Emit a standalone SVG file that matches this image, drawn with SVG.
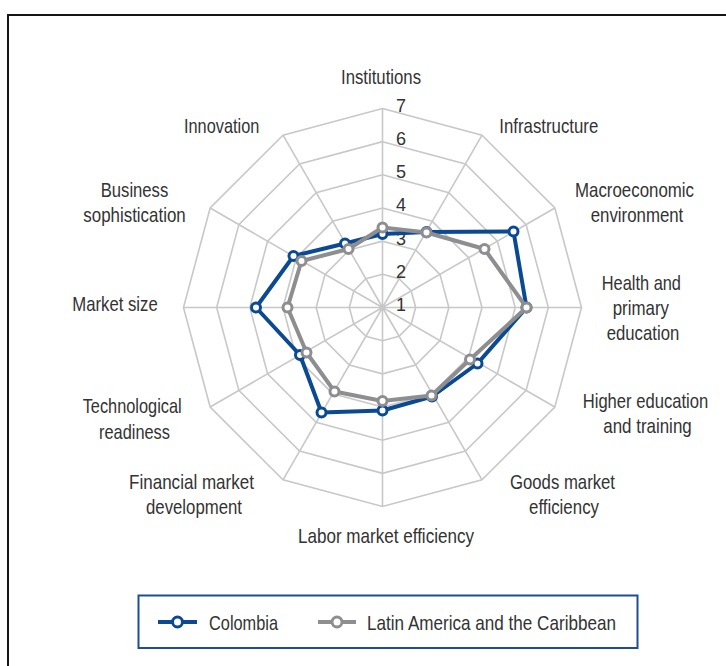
<svg xmlns="http://www.w3.org/2000/svg" width="726" height="666" viewBox="0 0 726 666">
<style>
.lbl{font-family:"Liberation Sans",Arial,sans-serif;font-size:21px;fill:#333;lengthAdjust:spacingAndGlyphs}
.tick{font-family:"Liberation Sans",Arial,sans-serif;font-size:18px;fill:#333}
.ring{fill:none;stroke:#c8c8c8;stroke-width:1.6}
.spoke{stroke:#c8c8c8;stroke-width:1.6}
.col{fill:none;stroke:#0b4a93;stroke-width:4;stroke-linejoin:round}
.lac{fill:none;stroke:#8e8e90;stroke-width:4;stroke-linejoin:round}
.mcol{fill:#fff;stroke:#0b4a93;stroke-width:3}
.mlac{fill:#fff;stroke:#8e8e90;stroke-width:3}
</style>
<rect width="726" height="666" fill="#fff"/>
<path d="M8,666 V15 H726" fill="none" stroke="#151515" stroke-width="2"/>
<g id="grid">
<polygon class="ring" points="382.5,274.33 399.08,278.78 411.22,290.92 415.67,307.5 411.22,324.08 399.08,336.22 382.5,340.67 365.92,336.22 353.78,324.08 349.33,307.5 353.78,290.92 365.92,278.78"/>
<polygon class="ring" points="382.5,241.17 415.67,250.05 439.95,274.33 448.83,307.5 439.95,340.67 415.67,364.95 382.5,373.83 349.33,364.95 325.05,340.67 316.17,307.5 325.05,274.33 349.33,250.05"/>
<polygon class="ring" points="382.5,208 432.25,221.33 468.67,257.75 482,307.5 468.67,357.25 432.25,393.67 382.5,407 332.75,393.67 296.33,357.25 283,307.5 296.33,257.75 332.75,221.33"/>
<polygon class="ring" points="382.5,174.83 448.83,192.61 497.39,241.17 515.17,307.5 497.39,373.83 448.83,422.39 382.5,440.17 316.17,422.39 267.61,373.83 249.83,307.5 267.61,241.17 316.17,192.61"/>
<polygon class="ring" points="382.5,141.67 465.42,163.89 526.11,224.58 548.33,307.5 526.11,390.42 465.42,451.11 382.5,473.33 299.58,451.11 238.89,390.42 216.67,307.5 238.89,224.58 299.58,163.89"/>
<polygon class="ring" points="382.5,108.5 482,135.16 554.84,208 581.5,307.5 554.84,407 482,479.84 382.5,506.5 283,479.84 210.16,407 183.5,307.5 210.16,208 283,135.16"/>
<path class="spoke" d="M382.5,307.5 L382.5,108.5 M382.5,307.5 L482,135.16 M382.5,307.5 L554.84,208 M382.5,307.5 L581.5,307.5 M382.5,307.5 L554.84,407 M382.5,307.5 L482,479.84 M382.5,307.5 L382.5,506.5 M382.5,307.5 L283,479.84 M382.5,307.5 L210.16,407 M382.5,307.5 L183.5,307.5 M382.5,307.5 L210.16,208 M382.5,307.5 L283,135.16"/>
</g>
<g id="ticks">
<text class="tick" x="396" y="311" textLength="8">1</text>
<text class="tick" x="396" y="277.8" textLength="8">2</text>
<text class="tick" x="396" y="244.6" textLength="8">3</text>
<text class="tick" x="396" y="211.4" textLength="8">4</text>
<text class="tick" x="396" y="178.2" textLength="8">5</text>
<text class="tick" x="396" y="145.1" textLength="8">6</text>
<text class="tick" x="396" y="111.9" textLength="8">7</text>
</g>
<g id="series">
<g id="colombia">
<polygon class="col" points="382.5,234 426.5,232 513.5,231.5 526.5,307.5 477.5,363.5 432,396.5 382.5,410.5 321.5,412.5 300,355 256,307.5 293.5,256 345,243.5"/>
<g>
<circle class="mcol" cx="382.5" cy="234" r="4.5"/><circle class="mcol" cx="426.5" cy="232" r="4.5"/><circle class="mcol" cx="513.5" cy="231.5" r="4.5"/><circle class="mcol" cx="526.5" cy="307.5" r="4.5"/><circle class="mcol" cx="477.5" cy="363.5" r="4.5"/><circle class="mcol" cx="432" cy="396.5" r="4.5"/><circle class="mcol" cx="382.5" cy="410.5" r="4.5"/><circle class="mcol" cx="321.5" cy="412.5" r="4.5"/><circle class="mcol" cx="300" cy="355" r="4.5"/><circle class="mcol" cx="256" cy="307.5" r="4.5"/><circle class="mcol" cx="293.5" cy="256" r="4.5"/><circle class="mcol" cx="345" cy="243.5" r="4.5"/>
</g>
</g>
<g id="lac">
<polygon class="lac" points="382.5,227.5 426.5,232.5 484.5,249 526.5,307.5 470,359.5 431.5,395.5 382.5,401 334.5,391.5 306.5,352.5 287.5,307.5 301.5,261 348.5,249"/>
<g>
<circle class="mlac" cx="382.5" cy="227.5" r="4.5"/><circle class="mlac" cx="426.5" cy="232.5" r="4.5"/><circle class="mlac" cx="484.5" cy="249" r="4.5"/><circle class="mlac" cx="526.5" cy="307.5" r="4.5"/><circle class="mlac" cx="470" cy="359.5" r="4.5"/><circle class="mlac" cx="431.5" cy="395.5" r="4.5"/><circle class="mlac" cx="382.5" cy="401" r="4.5"/><circle class="mlac" cx="334.5" cy="391.5" r="4.5"/><circle class="mlac" cx="306.5" cy="352.5" r="4.5"/><circle class="mlac" cx="287.5" cy="307.5" r="4.5"/><circle class="mlac" cx="301.5" cy="261" r="4.5"/><circle class="mlac" cx="348.5" cy="249" r="4.5"/>
</g>
</g>
</g>
<g id="axis-institutions"><text class="lbl" x="341" y="84" textLength="80" lengthAdjust="spacingAndGlyphs">Institutions</text></g>
<g id="axis-infrastructure"><text class="lbl" x="499.3" y="133.3" textLength="99" lengthAdjust="spacingAndGlyphs">Infrastructure</text></g>
<g id="axis-macro"><text class="lbl" x="575" y="196.7" textLength="119" lengthAdjust="spacingAndGlyphs">Macroeconomic</text><text class="lbl" x="590.7" y="221.7" textLength="92.6" lengthAdjust="spacingAndGlyphs">environment</text></g>
<g id="axis-health"><text class="lbl" x="601.7" y="290" textLength="79.3" lengthAdjust="spacingAndGlyphs">Health and</text><text class="lbl" x="612.7" y="315" textLength="56.3" lengthAdjust="spacingAndGlyphs">primary</text><text class="lbl" x="606.7" y="339.5" textLength="72.6" lengthAdjust="spacingAndGlyphs">education</text></g>
<g id="axis-higher"><text class="lbl" x="582.7" y="408.3" textLength="125.6" lengthAdjust="spacingAndGlyphs">Higher education</text><text class="lbl" x="603.3" y="432.7" textLength="88.4" lengthAdjust="spacingAndGlyphs">and training</text></g>
<g id="axis-goods"><text class="lbl" x="510" y="489" textLength="105" lengthAdjust="spacingAndGlyphs">Goods market</text><text class="lbl" x="529" y="514" textLength="70" lengthAdjust="spacingAndGlyphs">efficiency</text></g>
<g id="axis-labor"><text class="lbl" x="298" y="543" textLength="176" lengthAdjust="spacingAndGlyphs">Labor market efficiency</text></g>
<g id="axis-financial"><text class="lbl" x="129" y="489" textLength="125" lengthAdjust="spacingAndGlyphs">Financial market</text><text class="lbl" x="146" y="514" textLength="96" lengthAdjust="spacingAndGlyphs">development</text></g>
<g id="axis-tech"><text class="lbl" x="82.7" y="413.3" textLength="99" lengthAdjust="spacingAndGlyphs">Technological</text><text class="lbl" x="99" y="439.3" textLength="71" lengthAdjust="spacingAndGlyphs">readiness</text></g>
<g id="axis-market"><text class="lbl" x="72.3" y="310.7" textLength="85.4" lengthAdjust="spacingAndGlyphs">Market size</text></g>
<g id="axis-business"><text class="lbl" x="100.7" y="196.7" textLength="67.6" lengthAdjust="spacingAndGlyphs">Business</text><text class="lbl" x="83.3" y="221.7" textLength="102.4" lengthAdjust="spacingAndGlyphs">sophistication</text></g>
<g id="axis-innovation"><text class="lbl" x="184" y="133.3" textLength="75.3" lengthAdjust="spacingAndGlyphs">Innovation</text></g>
<g id="legend">
<rect x="138.5" y="595.5" width="499" height="52.5" fill="#fff" stroke="#1f4e8f" stroke-width="2"/>
<line x1="158" y1="622" x2="197" y2="622" stroke="#0b4a93" stroke-width="4"/>
<circle class="mcol" cx="177.5" cy="622" r="5"/>
<text class="lbl" x="209" y="630" textLength="69" lengthAdjust="spacingAndGlyphs">Colombia</text>
<line x1="318" y1="622" x2="356" y2="622" stroke="#8e8e90" stroke-width="4"/>
<circle class="mlac" cx="337" cy="622" r="5"/>
<text class="lbl" x="367" y="630" textLength="249" lengthAdjust="spacingAndGlyphs">Latin America and the Caribbean</text>
</g>
</svg>
